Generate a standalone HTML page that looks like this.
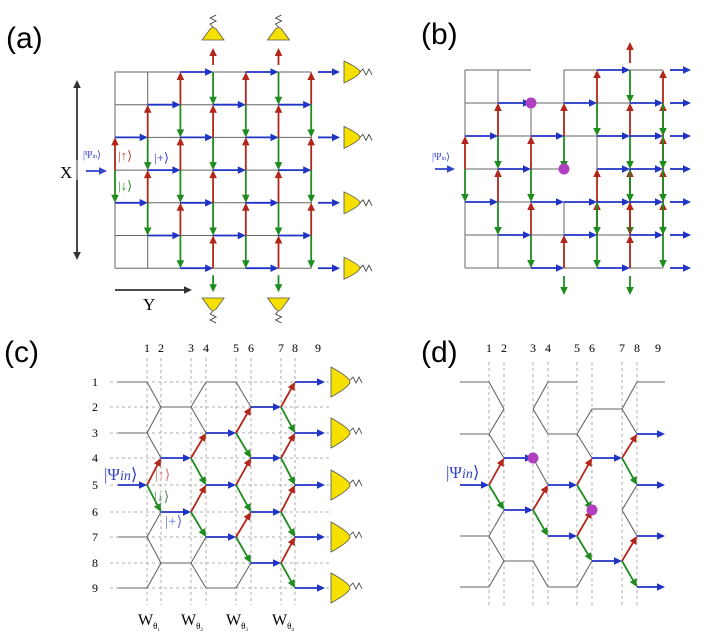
<!DOCTYPE html>
<html><head><meta charset="utf-8"><style>
body{margin:0;background:#fff;}
svg{display:block;font-family:"Liberation Serif",serif;}
</style></head><body>
<svg id="s" width="714" height="640" viewBox="0 0 714 640" xmlns="http://www.w3.org/2000/svg">
<rect width="714" height="640" fill="#fff"/>
<g id="g"></g>
<text x="6" y="48" font-family="Liberation Sans,sans-serif" font-size="30">(a)</text>
<text x="421" y="44" font-family="Liberation Sans,sans-serif" font-size="30">(b)</text>
<text x="4" y="362" font-family="Liberation Sans,sans-serif" font-size="30">(c)</text>
<text x="421" y="362" font-family="Liberation Sans,sans-serif" font-size="30">(d)</text>
<text x="60" y="178" font-size="17">X</text>
<text x="143" y="310" font-size="17">Y</text>
<text x="83" y="158" font-size="10" fill="#3344cc">|Ψ<tspan font-size="6">in</tspan>⟩</text>
<text x="118" y="160" font-size="13" fill="#b84030">|↑⟩</text>
<text x="118" y="190" font-size="13" fill="#2a8a2a">|↓⟩</text>
<text x="154" y="162" font-size="13" fill="#3344cc">|+⟩</text>
<text x="432" y="160" font-size="10" fill="#3344cc">|Ψ<tspan font-size="6">in</tspan>⟩</text>
<text x="104" y="480" font-size="17" fill="#3344cc">|Ψ<tspan font-style="italic" font-size="14">in</tspan>⟩</text>
<text x="155" y="479" font-size="14" fill="#e07070">|↑⟩</text>
<text x="154" y="501" font-size="14" fill="#509050">|↓⟩</text>
<text x="165" y="526" font-size="15" fill="#6677dd">|+⟩</text>
<text x="446" y="478" font-size="17" fill="#3344cc">|Ψ<tspan font-style="italic" font-size="14">in</tspan>⟩</text>
<g font-size="16"><text x="138" y="625">W<tspan font-size="9" dy="4">θ</tspan><tspan font-size="5" dy="2">1</tspan></text>
<text x="181" y="625">W<tspan font-size="9" dy="4">θ</tspan><tspan font-size="5" dy="2">2</tspan></text>
<text x="226" y="625">W<tspan font-size="9" dy="4">θ</tspan><tspan font-size="5" dy="2">3</tspan></text>
<text x="272" y="625">W<tspan font-size="9" dy="4">θ</tspan><tspan font-size="5" dy="2">4</tspan></text></g>
</svg>
<script>
var NS="http://www.w3.org/2000/svg",G=document.getElementById('g');
function el(t,a){var e=document.createElementNS(NS,t);for(var k in a)e.setAttribute(k,a[k]);G.appendChild(e);return e;}
var B="#1f33c4",R="#b3261a",GR="#1e8c1e",GY="#666";
function line(x1,y1,x2,y2,c,w,d){var a={x1:x1,y1:y1,x2:x2,y2:y2,stroke:c,'stroke-width':w||1.2};if(d)a['stroke-dasharray']=d;el('line',a);}
function arr(x1,y1,x2,y2,c){var dx=x2-x1,dy=y2-y1,L=Math.sqrt(dx*dx+dy*dy),ux=dx/L,uy=dy/L,h=8,w=3.8;
var bx=x2-ux*h,by=y2-uy*h;line(x1,y1,bx+ux*2,by+uy*2,c,1.8);
el('polygon',{points:x2+','+y2+' '+(bx-uy*w)+','+(by+ux*w)+' '+(bx+uy*w)+','+(by-ux*w),fill:c});}
function txt(x,y,s,fs){var e=el('text',{x:x,y:y,'font-size':fs||12,'text-anchor':'middle'});e.textContent=s;}
function squig(x,y,horiz){var d='M'+x+','+y,i;for(i=1;i<=4;i++){if(horiz)d+=' L'+(x+i*3)+','+(y+(i%2?-3:3));else d+=' L'+(x+(i%2?-3:3))+','+(y-i*3);}el('path',{d:d,fill:'none',stroke:'#333','stroke-width':0.8});}
function squigD(x,y){var d='M'+x+','+y;for(var i=1;i<=4;i++)d+=' L'+(x+(i%2?-3:3))+','+(y+i*3);el('path',{d:d,fill:'none',stroke:'#333','stroke-width':0.8});}
function detR(x,yc,h,l){el('path',{d:'M'+x+','+(yc-h)+' Q'+(x+l)+','+(yc-h*0.3)+' '+(x+l)+','+yc+' Q'+(x+l)+','+(yc+h*0.3)+' '+x+','+(yc+h)+' Z',fill:'#f5e000',stroke:'#555','stroke-width':0.8});}
function detU(xc,yb){el('path',{d:'M'+(xc-11)+','+yb+' L'+(xc-3)+','+(yb-11)+' Q'+xc+','+(yb-14)+' '+(xc+3)+','+(yb-11)+' L'+(xc+11)+','+yb+' Z',fill:'#f5e000',stroke:'#555','stroke-width':0.8});squig(xc,yb-13,false);}
function detD(xc,yt){el('path',{d:'M'+(xc-11)+','+yt+' L'+(xc-3)+','+(yt+11)+' Q'+xc+','+(yt+14)+' '+(xc+3)+','+(yt+11)+' L'+(xc+11)+','+yt+' Z',fill:'#f5e000',stroke:'#555','stroke-width':0.8});squigD(xc,yt+13);}

/* ---------- (a) ---------- */
var X=[],Y=[],i,c,r;for(i=0;i<7;i++){X.push(115+32.7*i);Y.push(72+32.7*i);}
for(i=0;i<7;i++){line(X[0],Y[i],X[6],Y[i],GY,1);line(X[i],Y[0],X[i],Y[6],GY,1);}
var P=[3];
arr(86,171,107,171,"#3344cc");
for(c=0;c<7;c++){var Q={};
 P.forEach(function(r){ if(r>0){arr(X[c],Y[r],X[c],Y[r-1],R);Q[r-1]=1;} else {arr(X[c],Y[0]-7,X[c],Y[0]-24,R);}
  if(r<6){arr(X[c],Y[r],X[c],Y[r+1],GR);Q[r+1]=1;} else {arr(X[c],Y[6]+7,X[c],Y[6]+24,GR);} });
 P=Object.keys(Q).map(Number);
 P.forEach(function(q){ if(c<6)arr(X[c],Y[q],X[c+1],Y[q],B); else {arr(318,Y[q],340,Y[q],B);detR(344,Y[q],11,16);squig(360,Y[q],true);} });
}
detU(X[3],40);detU(X[5],40);detD(X[3],298);detD(X[5],298);
arr(77,160,77,80,"#333");arr(77,180,77,260,"#333");line(77,150,77,190,"#333",1);
arr(115,290,192,290,"#333");

/* ---------- (b) ---------- */
var bx=[],by=[];for(i=0;i<7;i++){bx.push(465+33*i);by.push(70+33*i);}
for(r=0;r<7;r++)for(c=0;c<6;c++){if(r==0&&c==2)continue;if(r==3&&c==3)continue;line(bx[c],by[r],bx[c+1],by[r],GY,1);}
for(c=0;c<7;c++)for(r=0;r<6;r++){if(c==2&&r==0)continue;if(c==3&&r==3)continue;line(bx[c],by[r],bx[c],by[r+1],GY,1);}
var V={0:[[3,2,R],[3,4,GR]],1:[[2,1,R],[2,3,GR],[4,3,R],[4,5,GR]],2:[[3,2,R],[3,4,GR],[5,4,R],[5,6,GR]],
3:[[2,1,R],[2,3,GR],[6,5,R]],4:[[1,0,R],[1,2,GR],[4,3,R],[5,4,R],[4,5,GR],[5,6,GR]],
5:[[2,1,R],[4,3,R],[6,5,R],[0,1,GR],[2,3,GR],[3,4,GR],[4,5,GR],[5,4,R]],
6:[[1,0,R],[2,1,R],[3,2,R],[4,3,R],[5,4,R],[1,2,GR],[2,3,GR],[3,4,GR],[4,5,GR],[5,6,GR]]};
for(c in V)V[c].forEach(function(v){arr(bx[c],by[v[0]],bx[c],by[v[1]],v[2]);});
var H=[[0,4],[1,1],[1,3],[1,5],[2,0],[2,2],[2,4],[2,5],[3,1],[3,4],[3,5],[4,0],[4,2],[4,3],[4,4],[4,5],[5,1],[5,3],[5,5],[6,2],[6,4]];
H.forEach(function(h){arr(bx[h[1]],by[h[0]],bx[h[1]+1],by[h[0]],B);});
for(r=0;r<7;r++)arr(670,by[r],691,by[r],B);
arr(bx[5],by[0]-7,bx[5],by[0]-28,R);arr(bx[3],by[6]+8,bx[3],by[6]+27,GR);arr(bx[5],by[6]+8,bx[5],by[6]+27,GR);
arr(435,169,455,169,"#3344cc");
el('circle',{cx:bx[2],cy:by[1],r:5.5,fill:'#b040c0'});el('circle',{cx:bx[3],cy:by[3],r:5.5,fill:'#b040c0'});

/* ---------- (c) ---------- */
var cx=[0,147,161,191,206,236,251,281,295,318],cy=[0,382,407,433,458,485,512,537,563,588];
for(i=1;i<=9;i++){txt(cx[i],352,i,12);txt(95,cy[i]+4,i,12);
 line(110,cy[i],330,cy[i],"#999",0.8,"3,3");if(i<9)line(cx[i],358,cx[i],605,"#999",0.8,"3,3");}
function hexC(X,Y){
 var o=[1,3,5,7,9],e=[2,4,6,8];
 o.forEach(function(r){line(X.L,Y[r],X[1],Y[r],GY,1.1);});
 var pairs=[[1,2,o],[3,4,e],[5,6,o],[7,8,e]];
 pairs.forEach(function(p){p[2].forEach(function(r){[-1,1].forEach(function(d){var r2=r+d;if(r2<1||r2>9)return;
   line(X[p[0]],Y[r],X[p[1]],Y[r2],GY,1.1);});});});
 [[2,3,e],[4,5,o],[6,7,e]].forEach(function(p){p[2].forEach(function(r){line(X[p[0]],Y[r],X[p[1]],Y[r],GY,1.1);});});
}
cx.L=118;hexC(cx,cy);
arr(118,cy[5],cx[1],cy[5],B);
var Pc=[5],cols=[[1,2],[3,4],[5,6],[7,8]];
cols.forEach(function(cp,k){var Q={};Pc.forEach(function(r){arr(cx[cp[0]],cy[r],cx[cp[1]],cy[r-1],R);arr(cx[cp[0]],cy[r],cx[cp[1]],cy[r+1],GR);Q[r-1]=1;Q[r+1]=1;});
 Pc=Object.keys(Q).map(Number);Pc.forEach(function(q){if(k<3)arr(cx[cp[1]],cy[q],cx[cp[1]+1],cy[q],B);else{arr(cx[8],cy[q],325,cy[q],B);detR(331,cy[q],15,19);squig(350,cy[q]-2,true);}});});

/* ---------- (d) ---------- */
var dx=[0,489,504,533,548,577,592,622,637,658],dy=[0,382,409,434,458,485,510,536,561,587];
for(i=1;i<=9;i++){txt(dx[i],352,i,12);if(i<9)line(dx[i],362,dx[i],605,"#999",0.8,"3,3");}
var g=GY;function L(a,b,c2,d){line(a,b,c2,d,g,1.1);}
L(460,dy[1],dx[1],dy[1]);L(460,dy[3],dx[1],dy[3]);L(460,dy[7],dx[1],dy[7]);L(460,dy[9],dx[1],dy[9]);
L(dx[1],dy[1],dx[2],dy[2]);L(dx[2],dy[2],dx[1],dy[3]);L(dx[1],dy[3],dx[2],dy[4]);L(dx[1],dy[7],dx[2],dy[6]);L(dx[1],dy[7],dx[2],dy[8]);L(dx[1],dy[9],dx[2],dy[8]);
L(dx[2],dy[8],dx[3],dy[8]);
L(dx[3],dy[2],dx[4],dy[1]);L(dx[3],dy[2],dx[4],dy[3]);L(dx[3],dy[4],dx[4],dy[5]);L(dx[3],dy[8],dx[4],dy[9]);
L(dx[4],dy[1],dx[5],dy[1]);L(dx[4],dy[3],dx[5],dy[3]);L(dx[4],dy[9],dx[5],dy[9]);
L(dx[5],dy[3],dx[6],dy[2]);L(dx[5],dy[3],dx[6],dy[4]);L(dx[5],dy[9],dx[6],dy[8]);
L(dx[6],dy[2],dx[7],dy[2]);
L(dx[7],dy[2],dx[8],dy[1]);L(dx[7],dy[2],dx[8],dy[3]);L(dx[7],dy[6],dx[8],dy[5]);L(dx[7],dy[6],dx[8],dy[7]);
L(dx[8],dy[1],dx[9]+7,dy[1]);
arr(460,dy[5],dx[1],dy[5],B);
arr(dx[1],dy[5],dx[2],dy[4],R);arr(dx[1],dy[5],dx[2],dy[6],GR);
arr(dx[2],dy[4],dx[3],dy[4],B);arr(dx[2],dy[6],dx[3],dy[6],B);
arr(dx[3],dy[6],dx[4],dy[5],R);arr(dx[3],dy[6],dx[4],dy[7],GR);
arr(dx[4],dy[5],dx[5],dy[5],B);arr(dx[4],dy[7],dx[5],dy[7],B);
arr(dx[5],dy[5],dx[6],dy[4],R);arr(dx[5],dy[5],dx[6],dy[6],GR);arr(dx[5],dy[7],dx[6],dy[6],R);arr(dx[5],dy[7],dx[6],dy[8],GR);
arr(dx[6],dy[4],dx[7],dy[4],B);arr(dx[6],dy[8],dx[7],dy[8],B);
arr(dx[7],dy[4],dx[8],dy[3],R);arr(dx[7],dy[4],dx[8],dy[5],GR);arr(dx[7],dy[8],dx[8],dy[7],R);arr(dx[7],dy[8],dx[8],dy[9],GR);
[3,5,7,9].forEach(function(r){arr(dx[8],dy[r],665,dy[r],B);});
el('circle',{cx:dx[3],cy:dy[4],r:5.5,fill:'#b040c0'});el('circle',{cx:dx[6],cy:dy[6],r:5.5,fill:'#b040c0'});
</script>
</body></html>
